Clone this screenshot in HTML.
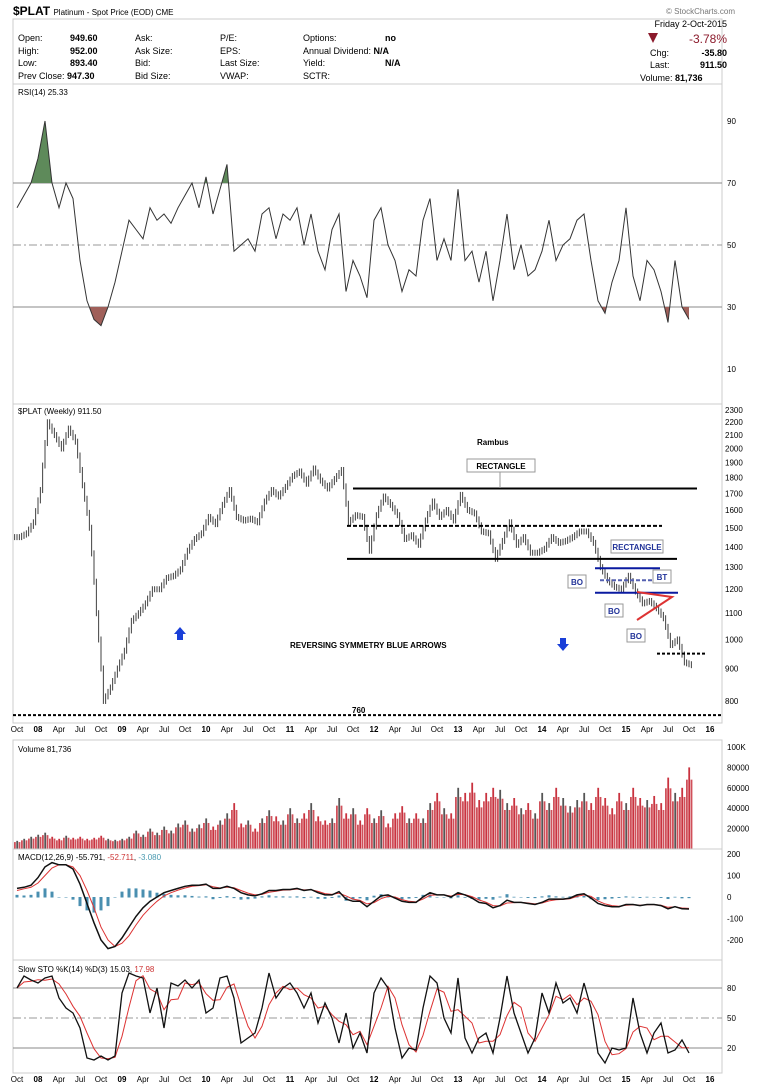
<!DOCTYPE html>
<html><head><meta charset="utf-8"><style>
body{margin:0;background:#fff;}
svg{display:block;font-family:"Liberation Sans",sans-serif;}
</style></head><body>
<svg id="c" width="765" height="1088" viewBox="0 0 765 1088" xmlns="http://www.w3.org/2000/svg">
<rect width="765" height="1088" fill="#fff"/>
<g font-size="9">
<text x="13" y="15" font-size="12" font-weight="bold">$PLAT <tspan font-size="8" font-weight="normal">Platinum - Spot Price (EOD) CME</tspan></text>
<text x="735" y="14" font-size="8" fill="#777" text-anchor="end">© StockCharts.com</text>
<rect x="13" y="19" width="709" height="65" fill="none" stroke="#ccc"/>
<g>
<text x="18" y="41">Open:</text><text x="70" y="41" font-weight="bold">949.60</text>
<text x="18" y="54">High:</text><text x="70" y="54" font-weight="bold">952.00</text>
<text x="18" y="66">Low:</text><text x="70" y="66" font-weight="bold">893.40</text>
<text x="18" y="79">Prev Close: <tspan font-weight="bold">947.30</tspan></text>
<text x="135" y="41">Ask:</text><text x="135" y="54">Ask Size:</text><text x="135" y="66">Bid:</text><text x="135" y="79">Bid Size:</text>
<text x="220" y="41">P/E:</text><text x="220" y="54">EPS:</text><text x="220" y="66">Last Size:</text><text x="220" y="79">VWAP:</text>
<text x="303" y="41">Options:</text><text x="385" y="41" font-weight="bold">no</text>
<text x="303" y="54">Annual Dividend: <tspan font-weight="bold">N/A</tspan></text>
<text x="303" y="66">Yield:</text><text x="385" y="66" font-weight="bold">N/A</text>
<text x="303" y="79">SCTR:</text>
<text x="727" y="27" text-anchor="end">Friday  2-Oct-2015</text>
<path d="M648 33 L658 33 L653 43 Z" fill="#8b1a2b"/>
<text x="727" y="43" text-anchor="end" font-size="12" fill="#8b1a2b">-3.78%</text>
<text x="650" y="56">Chg:</text><text x="727" y="56" text-anchor="end" font-weight="bold">-35.80</text>
<text x="650" y="68">Last:</text><text x="727" y="68" text-anchor="end" font-weight="bold">911.50</text>
<text x="640" y="81">Volume: <tspan font-weight="bold">81,736</tspan></text>
</g></g>
<g id="rsi"></g>
<g id="price"></g>
<g id="vol"></g>
<g id="macd"></g>
<g id="sto"></g>
<g id="xax"></g>
</svg>
<script>
const NS="http://www.w3.org/2000/svg";
const closes=[1450,1470,1530,
1720,2200,2100,2000,2150,2050,1750,1500,1100,800,840,900,
960,1070,1100,1140,1200,1200,1250,1260,1290,1380,1440,1470,
1560,1520,1630,1720,1560,1540,1550,1530,1650,1720,1680,1740,
1810,1840,1760,1860,1780,1730,1790,1850,1530,1570,1560,1380,
1570,1680,1630,1570,1440,1460,1410,1540,1650,1560,1600,1540,
1690,1600,1580,1480,1470,1340,1430,1530,1410,1450,1370,1370,
1390,1450,1420,1430,1450,1480,1480,1420,1300,1240,1210,1200,
1260,1190,1140,1150,1120,1080,980,1000,920,911];
const rsiVals=[62,66,70,
78,90,70,62,70,65,45,32,26,24,30,38,
48,58,55,52,62,58,60,57,62,66,70,62,
72,60,68,76,48,50,52,48,60,62,52,60,
58,62,50,60,48,42,55,60,35,45,40,33,
58,62,50,45,35,42,40,58,65,45,52,45,
68,45,48,38,48,32,45,60,42,50,40,42,
48,58,45,50,52,58,60,45,32,28,38,45,
62,40,32,45,42,35,25,45,30,26];
const volVals=[8,10,12,
14,16,12,10,13,11,12,10,11,13,10,9,
10,12,18,14,20,16,22,18,25,28,20,24,
30,22,28,35,45,25,28,20,30,38,32,28,
40,30,35,45,32,28,30,50,35,40,28,40,
30,38,25,35,42,30,35,30,45,55,40,35,
60,55,65,48,55,60,58,45,50,40,45,35,
55,45,60,50,42,48,55,45,60,50,40,55,
45,60,50,48,52,45,70,55,60,80];
const macdVals=[40,45,55,
90,140,160,150,150,130,60,-30,-120,-200,-240,-230,
-190,-140,-90,-50,-20,0,20,30,40,50,55,55,
60,40,40,50,40,20,10,5,15,30,30,35,
35,40,30,35,20,10,10,25,-10,-20,-20,-45,
-20,5,10,-5,-20,-25,-25,0,20,10,10,0,
20,10,-5,-25,-30,-50,-40,-15,-25,-25,-30,-35,
-25,-10,-10,-10,-5,10,15,-5,-30,-40,-45,-45,
-35,-35,-40,-35,-35,-40,-55,-45,-55,-56];
const signalVals=[30,38,45,
65,100,135,150,150,140,100,30,-50,-140,-200,-230,
-215,-180,-130,-85,-50,-20,5,20,32,42,50,53,
57,48,42,46,43,30,18,10,12,22,27,32,
33,37,33,34,26,16,12,18,5,-10,-16,-32,
-26,-8,3,0,-12,-20,-23,-10,8,10,10,4,
12,11,2,-14,-24,-40,-42,-28,-26,-25,-28,-32,
-28,-18,-13,-11,-8,3,10,3,-18,-32,-40,-43,
-38,-36,-38,-36,-35,-38,-48,-46,-51,-53];
const stoK=[80,92,88,
85,90,92,70,60,55,40,10,8,12,8,12,
75,95,92,90,55,80,40,85,82,88,80,88,
55,60,90,92,70,25,30,35,60,95,70,80,
85,75,60,75,45,65,50,25,55,20,35,15,
75,90,80,40,10,20,18,60,92,85,50,35,
90,30,15,30,35,15,50,92,55,35,15,30,
75,55,85,65,70,55,85,60,15,5,20,18,
20,70,35,15,35,45,15,18,28,15];
const priceTicks=[2300,2200,2100,2000,1900,1800,1700,1600,1500,1400,1300,1200,1100,1000,900,800];
const rsiTicks=[90,70,50,30,10];
const volTicks=[100,80,60,40,20];
const macdTicks=[200,100,0,-100,-200];
const stoTicks=[80,50,20];
const xLabels=["Oct","08","Apr","Jul","Oct","09","Apr","Jul","Oct","10","Apr","Jul","Oct","11","Apr","Jul","Oct","12","Apr","Jul","Oct","13","Apr","Jul","Oct","14","Apr","Jul","Oct","15","Apr","Jul","Oct","16"];

const L=13,R=722;
const X=i=>17+i*7;
const yPrice=p=>410+275.5*(Math.log(2300)-Math.log(p));
const yRsi=v=>307-(v-30)*3.1;
const yVol=v=>849-v*1.02;
const yMacd=v=>897-v*0.215;
const ySto=v=>1068-v;

function mk(parent,tag,attrs){const e=document.createElementNS(NS,tag);for(const k in attrs)e.setAttribute(k,attrs[k]);document.getElementById(parent).appendChild(e);return e;}
function txt(parent,x,y,s,attrs){const e=mk(parent,"text",Object.assign({x:x,y:y,"font-size":9},attrs||{}));e.textContent=s;return e;}
function line(parent,x1,y1,x2,y2,st,extra){return mk(parent,"line",Object.assign({x1:x1,y1:y1,x2:x2,y2:y2,stroke:st},extra||{}));}
function poly(vals,fy){return vals.map((v,i)=>X(i).toFixed(1)+","+fy(v).toFixed(1)).join(" ");}
function clip(id,x,y,w,h){const cp=mk("rsi","clipPath",{id:id});const r=document.createElementNS(NS,"rect");
r.setAttribute("x",x);r.setAttribute("y",y);r.setAttribute("width",w);r.setAttribute("height",h);cp.appendChild(r);}

// RSI panel
let f=mk("rsi","rect",{x:L,y:84,width:R-L,height:320,fill:"none",stroke:"#ccc"});

rsiTicks.forEach(t=>{let e=txt("rsi",727,yRsi(t)+3,String(t),{"font-size":8});
});
line("rsi",L,yRsi(70),R,yRsi(70),"#888");line("rsi",L,yRsi(30),R,yRsi(30),"#888");
line("rsi",L,yRsi(50),R,yRsi(50),"#999",{"stroke-dasharray":"8,3,2,3"});
clip("above",L,84,R-L,yRsi(70)-84);
clip("below",L,yRsi(30),R-L,404-yRsi(30));
const rp=poly(rsiVals,yRsi);
let ga=mk("rsi","polygon",{points:X(0)+","+yRsi(70)+" "+rp+" "+X(rsiVals.length-1)+","+yRsi(70),fill:"#5e8a5a","clip-path":"url(#above)"});

let gb=mk("rsi","polygon",{points:X(0)+","+yRsi(30)+" "+rp+" "+X(rsiVals.length-1)+","+yRsi(30),fill:"#a0605a","clip-path":"url(#below)"});

let rl=mk("rsi","polyline",{points:rp,fill:"none",stroke:"#333","stroke-width":1});

let rt=txt("rsi",18,95,"RSI(14) 25.33",{"font-size":8});


// Price panel
f=mk("price","rect",{x:L,y:404,width:R-L,height:319,fill:"none",stroke:"#ccc"});

priceTicks.forEach(t=>{let e=txt("price",725,yPrice(t)+3,String(t),{"font-size":8});
});
let pt=txt("price",18,414,"$PLAT (Weekly) 911.50",{"font-size":8});

closes.forEach((c,i)=>{const p=i?closes[i-1]:c;
for(let k=0;k<3;k++){const xx=X(i)-2.3+k*2.3;const a=p+(c-p)*k/3,b=p+(c-p)*(k+1)/3;
const hi=Math.max(a,b),lo=Math.min(a,b);
let bar=line("price",xx,yPrice(hi)-3,xx,yPrice(lo)+3,"#111",{"stroke-width":0.8});
}});
// annotations
const ann=[[353,697,1730,"#000",""],[347,662,1510,"#000","4,2"],[347,677,1340,"#000",""],[595,660,1295,"#0a1aa0",""],[600,660,1240,"#5560b0","4,2"],[595,678,1185,"#0a1aa0",""],[657,706,950,"#000","3,2"],[13,722,760,"#000","3,2"]];
ann.forEach(a=>{let e=line("price",a[0],yPrice(a[2]),a[1],yPrice(a[2]),a[3],{"stroke-width":2,"stroke-dasharray":a[4]});
});
let tri=mk("price","polyline",{points:"637,592 672,597 637,620",fill:"none",stroke:"#d33","stroke-width":2});

txt("price",352,713,"760",{"font-size":8,"font-weight":"bold"});
txt("price",477,445,"Rambus",{"font-size":8,"font-weight":"bold"});
txt("price",290,648,"REVERSING SYMMETRY BLUE ARROWS",{"font-size":8,"font-weight":"bold"});
function callout(x,y,w,s,col){let r=mk("price","rect",{x:x,y:y,width:w,height:13,fill:"#fff",stroke:"#999"});

txt("price",x+w/2,y+10,s,{"font-size":8,"text-anchor":"middle",fill:col,"font-weight":"bold"});}
callout(467,459,68,"RECTANGLE","#000");line("price",500,472,500,488,"#999");
callout(611,540,52,"RECTANGLE","#223399");
callout(568,575,18,"BO","#223399");callout(605,604,18,"BO","#223399");callout(627,629,18,"BO","#223399");callout(653,570,18,"BT","#223399");
let ua=mk("price","polygon",{points:"180,627 186,634 183,634 183,640 177,640 177,634 174,634",fill:"#1a3fd8"});

let da=mk("price","polygon",{points:"563,651 569,644 566,644 566,638 560,638 560,644 557,644",fill:"#1a3fd8"});


// Volume
f=mk("vol","rect",{x:L,y:740,width:R-L,height:109,fill:"none",stroke:"#ccc"});

volTicks.forEach(t=>{let e=txt("vol",727,yVol(t)+3,t===100?"100K":String(t*1000),{"font-size":8});
});
volVals.forEach((v,i)=>{const up=i===0||closes[i]>=closes[i-1];
for(let k=0;k<3;k++){const vv=v*(k===1?1:0.85);
let b=mk("vol","rect",{x:X(i)-3+k*2.3,y:yVol(vv),width:1.8,height:849-yVol(vv),fill:(k===1?(up?"#555":"#c9323f"):"#d0505a")});
}});
let vt=txt("vol",18,752,"Volume 81,736",{"font-size":8});


// MACD
f=mk("macd","rect",{x:L,y:849,width:R-L,height:111,fill:"none",stroke:"#ccc"});

macdTicks.forEach(t=>{let e=txt("macd",727,yMacd(t)+3,String(t),{"font-size":8});
});
macdVals.forEach((v,i)=>{const h=v-signalVals[i];const y0=yMacd(0),y1=yMacd(h);
let b=mk("macd","rect",{x:X(i)-1.5,y:Math.min(y0,y1),width:3,height:Math.abs(y1-y0)+0.5,fill:"#4a8fb0"});
});
let sl=mk("macd","polyline",{points:poly(signalVals,yMacd),fill:"none",stroke:"#d33","stroke-width":1});

let ml=mk("macd","polyline",{points:poly(macdVals,yMacd),fill:"none",stroke:"#111","stroke-width":1.5});

let mt=txt("macd",18,860,"",{"font-size":8});
mt.innerHTML='MACD(12,26,9) -55.791, <tspan fill="#c33">-52.711</tspan>, <tspan fill="#4a9ab0">-3.080</tspan>';


// STO
f=mk("sto","rect",{x:L,y:960,width:R-L,height:113,fill:"none",stroke:"#ccc"});

stoTicks.forEach(t=>{let e=txt("sto",727,ySto(t)+3,String(t),{"font-size":8});
});
line("sto",L,ySto(80),R,ySto(80),"#888");line("sto",L,ySto(20),R,ySto(20),"#888");
line("sto",L,ySto(50),R,ySto(50),"#999",{"stroke-dasharray":"8,3,2,3"});
const stoD=stoK.map((v,i)=>{const a=stoK.slice(Math.max(0,i-2),i+1);return a.reduce((s,x)=>s+x,0)/a.length;});
let dl=mk("sto","polyline",{points:poly(stoD,ySto),fill:"none",stroke:"#d33","stroke-width":1});

let kl=mk("sto","polyline",{points:poly(stoK,ySto),fill:"none",stroke:"#111","stroke-width":1.3});

let st=txt("sto",18,972,"",{"font-size":8});
st.innerHTML='Slow STO %K(14) %D(3) 15.03, <tspan fill="#c33">17.98</tspan>';


// X axes
[732,1082].forEach(yy=>{xLabels.forEach((s,j)=>{const idx=j*3;let e=txt("xax",X(idx),yy,s,{"font-size":8,"text-anchor":"middle","font-weight":/^\d/.test(s)?"bold":"normal"});
});});
</script>
</body></html>
